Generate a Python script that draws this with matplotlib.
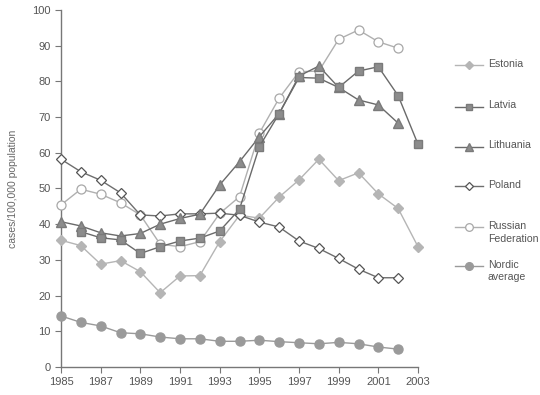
import matplotlib
matplotlib.use("Agg")
import matplotlib.pyplot as plt
from matplotlib.lines import Line2D

plt.rcParams['font.family'] = ['Liberation Sans', 'DejaVu Sans']

years = list(range(1985, 2004))
estonia = [35.5, 34.0, 28.8, 29.8, 26.7, 20.8, 25.5, 25.6, 35.1, 42.5, 41.7, 47.6,
           52.4, 58.2, 52.2, 54.4, 48.5, 44.4, 33.7]
latvia_years = list(range(1986, 2004))
latvia = [37.9, 36.2, 35.6, 31.8, 33.7, 35.3, 36.1, 38.1, 44.2, 61.7, 71.0,
          81.1, 80.9, 78.3, 82.9, 84.1, 76.0, 62.4]
lith_years = list(range(1985, 2003))
lithuania = [40.7, 39.5, 37.6, 36.7, 37.4, 40.0, 41.6, 42.8, 51.0, 57.5, 64.5,
             71.0, 81.5, 84.3, 78.3, 74.8, 73.4, 68.3]
pol_years = list(range(1985, 2003))
poland = [58.2, 54.7, 52.3, 48.8, 42.6, 42.3, 42.9, 42.9, 43.1, 42.5, 40.6,
          39.2, 35.3, 33.2, 30.4, 27.4, 25.0, 25.0]
rus_years = list(range(1985, 2003))
russia = [45.4, 49.8, 48.4, 46.0, 42.6, 34.4, 33.7, 35.1, 43.0, 47.7, 65.5,
          75.3, 82.7, 82.9, 91.8, 94.4, 91.1, 89.3]
nor_years = list(range(1985, 2003))
nordic = [14.3, 12.5, 11.5, 9.6, 9.3, 8.4, 7.9, 7.9, 7.2, 7.2, 7.5, 7.1, 6.8,
          6.5, 6.9, 6.5, 5.6, 5.0]

labels = ['Estonia', 'Latvia', 'Lithuania', 'Poland', 'Russian\nFederation', 'Nordic\naverage']
xticks = list(range(1985, 2004, 2))
yticks = list(range(0, 101, 10))

styles = [
    dict(color='#b5b5b5', marker='D', ms=5, mfc='#b5b5b5', mec='#b5b5b5', lw=1.0),
    dict(color='#6a6a6a', marker='s', ms=5.5, mfc='#8c8c8c', mec='#7a7a7a', lw=1.0),
    dict(color='#6a6a6a', marker='^', ms=6.5, mfc='#8c8c8c', mec='#7a7a7a', lw=1.0),
    dict(color='#6e6e6e', marker='D', ms=5, mfc='white', mec='#555555', mew=0.9, lw=1.0),
    dict(color='#b0b0b0', marker='o', ms=6.5, mfc='white', mec='#a8a8a8', mew=0.9, lw=1.0),
    dict(color='#9a9a9a', marker='o', ms=6.5, mfc='#9a9a9a', mec='#9a9a9a', lw=1.0),
]
data = [(years, estonia), (latvia_years, latvia), (lith_years, lithuania),
        (pol_years, poland), (rus_years, russia), (nor_years, nordic)]

fig = plt.figure(figsize=(5.4, 3.95), dpi=100)
ax = fig.add_axes([61/540, 1-367/395, (418-61)/540, (367-10)/395])

order = [4, 0, 3, 2, 1, 5]
for i in order:
    xs, ys = data[i]
    ax.plot(xs, ys, clip_on=False, zorder=3, **styles[i])

ax.set_xlim(1985, 2003)
ax.set_ylim(0, 100)
ax.set_xticks(xticks)
ax.set_yticks(yticks)
for s in ['top', 'right']:
    ax.spines[s].set_visible(False)
for s in ['left', 'bottom']:
    ax.spines[s].set_color('#777777')
    ax.spines[s].set_linewidth(1.0)
ax.tick_params(colors='#777777', labelcolor='#555555', labelsize=8, length=4, width=0.8)
ax.set_ylabel('cases/100,000 population', fontsize=7.5, color='#666666', labelpad=10)

# legend drawn manually in figure coords
leg_y = [65, 106.5, 146.5, 185.5, 227.5, 266]
for i, y in enumerate(leg_y):
    st = dict(styles[i])
    yf = 1 - y/395
    ln = Line2D([455/540, 483/540], [yf, yf], transform=fig.transFigure,
                color=st['color'], lw=st['lw'])
    fig.add_artist(ln)
    ln2 = Line2D([469/540], [yf], transform=fig.transFigure, linestyle='none',
                 marker=st['marker'], ms=st['ms'] * 0.85, mfc=st['mfc'], mec=st['mec'],
                 mew=st.get('mew', 1.0))
    fig.add_artist(ln2)
    fig.text(488/540, yf + 6/395, labels[i], fontsize=7.6, color='#555555',
             va='top', ha='left', linespacing=1.3)

fig.savefig('out.png', dpi=100)
